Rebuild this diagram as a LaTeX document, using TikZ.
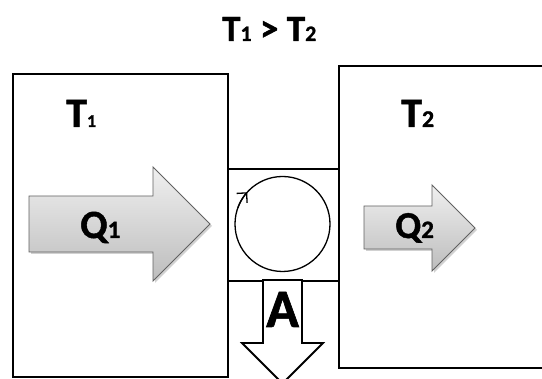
\documentclass[tikz,border=0pt]{standalone}
\usepackage{fontspec}
\setmainfont{Carlito}[BoldFeatures={FakeBold=1.2}]
\usetikzlibrary{arrows.meta}
\newcommand\dg[2]{{\fontsize{#1}{#1}\selectfont #2}}
\begin{document}
\begin{tikzpicture}[x=1pt,y=-1pt,
  frame/.style={draw=black, line width=1.8pt, rectangle, inner sep=0pt, anchor=north west},
  heatarrow/.style={draw=black!62, line width=0.9pt, top color=black!6, bottom color=black!26},
  arrowshadow/.style={fill=black!18},
  workarrow/.style={draw=black, line width=1.8pt, fill=white},
  cyclebox/.style={draw=black, line width=1.3pt, circle, inner sep=0pt, minimum size=95pt},
  lbl/.style={inner sep=0pt, anchor=base west, font=\bfseries}]
\useasboundingbox (0,0) rectangle (542,379);
\clip (0,0) rectangle (542,379);
% reservoirs and engine
\node[frame, minimum width=215pt, minimum height=303pt] (hot) at (12,73) {};
\node[frame, minimum width=240pt, minimum height=302pt] (cold) at (338,65) {};
\node[frame, minimum width=111pt, minimum height=112pt] (engine) at (227,168) {};
\node[cyclebox] (cyc) at (282.5,224) {};
\draw[line width=1.3pt, -{Straight Barb[length=7pt,width=14pt]}]
  ([shift={(200:47.5)}]cyc.center) arc[start angle=200, end angle=222, radius=47.5];
% heat arrows
\fill[arrowshadow] (31,198) -- (155,198) -- (155,169) -- (212,226) -- (155,283) -- (155,254) -- (31,254) -- cycle;
\shade[heatarrow] (29,196) -- (153,196) -- (153,167) -- (210,224) -- (153,281) -- (153,252) -- (29,252) -- cycle;
\fill[arrowshadow] (366,208) -- (434,208) -- (434,187) -- (477,230) -- (434,273) -- (434,251) -- (366,251) -- cycle;
\shade[heatarrow] (364,206) -- (432,206) -- (432,185) -- (475,228) -- (432,271) -- (432,249) -- (364,249) -- cycle;
% work arrow
\draw[workarrow] (263,280) -- (302,280) -- (302,343) -- (323,343) -- (282.5,383.5) -- (242,343) -- (263,343) -- cycle;
% labels
\node[lbl] (cmp) at (222,41) {\fontsize{37}{40}\selectfont T\dg{22}{1} > T\dg{22}{2}};
\node[lbl] (t1) at (66,127) {\fontsize{42}{44}\selectfont T\dg{18}{1}};
\node[lbl] (t2) at (401,127) {\fontsize{42}{44}\selectfont T\dg{24}{2}};
\node[lbl] (q1) at (80,238) {\fontsize{40}{44}\selectfont Q\dg{25}{1}};
\node[lbl] (q2) at (395,238) {\fontsize{38}{44}\selectfont Q\dg{25}{2}};
\node[lbl] (a) at (266,327) {\fontsize{54}{56}\selectfont A};
\end{tikzpicture}
\end{document}
